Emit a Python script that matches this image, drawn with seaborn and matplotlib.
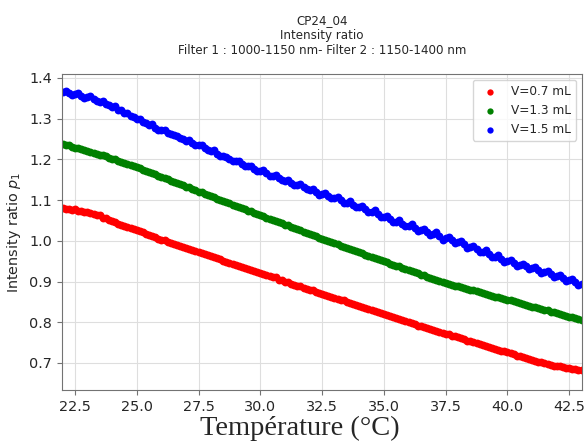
import matplotlib
matplotlib.use('Agg')
import matplotlib.pyplot as plt
import pandas as pd
import seaborn as sns

# Temperature (°C) of each sample, one row per degree
temps = [22.000, 22.125, 22.250, 22.375, 22.500, 22.625, 22.750, 22.875,
         23.000, 23.125, 23.250, 23.375, 23.500, 23.625, 23.750, 23.875,
         24.000, 24.125, 24.250, 24.375, 24.500, 24.625, 24.750, 24.875,
         25.000, 25.125, 25.250, 25.375, 25.500, 25.625, 25.750, 25.875,
         26.000, 26.125, 26.250, 26.375, 26.500, 26.625, 26.750, 26.875,
         27.000, 27.125, 27.250, 27.375, 27.500, 27.625, 27.750, 27.875,
         28.000, 28.125, 28.250, 28.375, 28.500, 28.625, 28.750, 28.875,
         29.000, 29.125, 29.250, 29.375, 29.500, 29.625, 29.750, 29.875,
         30.000, 30.125, 30.250, 30.375, 30.500, 30.625, 30.750, 30.875,
         31.000, 31.125, 31.250, 31.375, 31.500, 31.625, 31.750, 31.875,
         32.000, 32.125, 32.250, 32.375, 32.500, 32.625, 32.750, 32.875,
         33.000, 33.125, 33.250, 33.375, 33.500, 33.625, 33.750, 33.875,
         34.000, 34.125, 34.250, 34.375, 34.500, 34.625, 34.750, 34.875,
         35.000, 35.125, 35.250, 35.375, 35.500, 35.625, 35.750, 35.875,
         36.000, 36.125, 36.250, 36.375, 36.500, 36.625, 36.750, 36.875,
         37.000, 37.125, 37.250, 37.375, 37.500, 37.625, 37.750, 37.875,
         38.000, 38.125, 38.250, 38.375, 38.500, 38.625, 38.750, 38.875,
         39.000, 39.125, 39.250, 39.375, 39.500, 39.625, 39.750, 39.875,
         40.000, 40.125, 40.250, 40.375, 40.500, 40.625, 40.750, 40.875,
         41.000, 41.125, 41.250, 41.375, 41.500, 41.625, 41.750, 41.875,
         42.000, 42.125, 42.250, 42.375, 42.500, 42.625, 42.750, 42.875,
         43.000]

# Intensity ratio p1 for V=0.7 mL
ratio_07 = [1.080, 1.078, 1.078, 1.076, 1.077, 1.074, 1.074, 1.071,
            1.071, 1.068, 1.067, 1.063, 1.064, 1.057, 1.055, 1.051,
            1.049, 1.045, 1.042, 1.040, 1.036, 1.033, 1.031, 1.028,
            1.026, 1.024, 1.021, 1.017, 1.015, 1.013, 1.009, 1.005,
            1.003, 1.001, 0.998, 0.995, 0.993, 0.990, 0.988, 0.985,
            0.983, 0.981, 0.978, 0.975, 0.973, 0.971, 0.968, 0.964,
            0.962, 0.960, 0.957, 0.955, 0.951, 0.949, 0.946, 0.943,
            0.941, 0.939, 0.936, 0.933, 0.931, 0.929, 0.926, 0.923,
            0.921, 0.919, 0.916, 0.913, 0.911, 0.910, 0.905, 0.903,
            0.900, 0.898, 0.895, 0.892, 0.890, 0.888, 0.885, 0.882,
            0.880, 0.878, 0.875, 0.872, 0.870, 0.868, 0.865, 0.862,
            0.860, 0.858, 0.855, 0.854, 0.850, 0.848, 0.845, 0.842,
            0.840, 0.838, 0.835, 0.832, 0.830, 0.828, 0.825, 0.822,
            0.820, 0.818, 0.815, 0.812, 0.810, 0.808, 0.805, 0.804,
            0.800, 0.798, 0.795, 0.792, 0.790, 0.788, 0.786, 0.783,
            0.781, 0.779, 0.776, 0.773, 0.772, 0.770, 0.767, 0.766,
            0.763, 0.761, 0.758, 0.755, 0.753, 0.751, 0.749, 0.746,
            0.744, 0.742, 0.740, 0.737, 0.735, 0.733, 0.730, 0.729,
            0.726, 0.724, 0.721, 0.718, 0.717, 0.715, 0.712, 0.709,
            0.708, 0.706, 0.703, 0.702, 0.699, 0.698, 0.696, 0.693,
            0.693, 0.692, 0.690, 0.687, 0.687, 0.686, 0.685, 0.683,
            0.683]

# Intensity ratio p1 for V=1.3 mL
ratio_13 = [1.238, 1.236, 1.235, 1.231, 1.229, 1.228, 1.225, 1.222,
            1.220, 1.219, 1.216, 1.213, 1.211, 1.210, 1.207, 1.204,
            1.202, 1.201, 1.197, 1.194, 1.191, 1.189, 1.186, 1.183,
            1.180, 1.178, 1.174, 1.171, 1.168, 1.167, 1.163, 1.160,
            1.157, 1.155, 1.151, 1.148, 1.145, 1.143, 1.139, 1.136,
            1.133, 1.131, 1.127, 1.124, 1.121, 1.119, 1.115, 1.112,
            1.109, 1.107, 1.103, 1.100, 1.098, 1.096, 1.092, 1.089,
            1.086, 1.084, 1.080, 1.077, 1.074, 1.072, 1.069, 1.066,
            1.063, 1.061, 1.057, 1.054, 1.051, 1.049, 1.045, 1.043,
            1.040, 1.038, 1.034, 1.031, 1.028, 1.026, 1.022, 1.020,
            1.017, 1.015, 1.011, 1.008, 1.005, 1.003, 0.999, 0.996,
            0.994, 0.992, 0.988, 0.985, 0.983, 0.981, 0.977, 0.974,
            0.972, 0.970, 0.966, 0.963, 0.961, 0.959, 0.955, 0.952,
            0.950, 0.948, 0.944, 0.941, 0.939, 0.937, 0.934, 0.931,
            0.928, 0.926, 0.923, 0.920, 0.917, 0.915, 0.912, 0.909,
            0.906, 0.904, 0.901, 0.898, 0.896, 0.895, 0.892, 0.890,
            0.888, 0.887, 0.884, 0.882, 0.880, 0.879, 0.876, 0.874,
            0.872, 0.870, 0.867, 0.865, 0.863, 0.862, 0.859, 0.857,
            0.855, 0.854, 0.851, 0.849, 0.847, 0.845, 0.842, 0.840,
            0.838, 0.837, 0.834, 0.832, 0.830, 0.829, 0.826, 0.824,
            0.822, 0.821, 0.818, 0.816, 0.814, 0.813, 0.810, 0.808,
            0.806]

# Intensity ratio p1 for V=1.5 mL
ratio_15 = [1.366, 1.368, 1.363, 1.358, 1.360, 1.362, 1.356, 1.351,
            1.352, 1.355, 1.347, 1.343, 1.341, 1.344, 1.335, 1.334,
            1.328, 1.330, 1.321, 1.320, 1.313, 1.315, 1.306, 1.305,
            1.299, 1.300, 1.292, 1.290, 1.285, 1.286, 1.278, 1.272,
            1.271, 1.273, 1.265, 1.262, 1.259, 1.258, 1.252, 1.250,
            1.246, 1.247, 1.240, 1.236, 1.234, 1.235, 1.227, 1.222,
            1.221, 1.222, 1.214, 1.208, 1.207, 1.206, 1.200, 1.196,
            1.195, 1.196, 1.189, 1.184, 1.183, 1.184, 1.177, 1.172,
            1.172, 1.173, 1.166, 1.160, 1.160, 1.162, 1.154, 1.149,
            1.148, 1.150, 1.142, 1.137, 1.136, 1.139, 1.131, 1.126,
            1.125, 1.128, 1.120, 1.112, 1.115, 1.118, 1.110, 1.104,
            1.105, 1.108, 1.099, 1.094, 1.094, 1.097, 1.088, 1.082,
            1.082, 1.086, 1.077, 1.070, 1.071, 1.075, 1.065, 1.058,
            1.059, 1.062, 1.053, 1.046, 1.047, 1.051, 1.042, 1.036,
            1.037, 1.041, 1.032, 1.024, 1.027, 1.030, 1.022, 1.015,
            1.017, 1.021, 1.012, 1.003, 1.007, 1.010, 1.002, 0.995,
            0.997, 1.000, 0.991, 0.983, 0.985, 0.988, 0.979, 0.972,
            0.973, 0.977, 0.967, 0.960, 0.961, 0.965, 0.955, 0.949,
            0.950, 0.954, 0.945, 0.939, 0.941, 0.944, 0.937, 0.930,
            0.933, 0.936, 0.928, 0.921, 0.923, 0.926, 0.918, 0.911,
            0.913, 0.916, 0.908, 0.901, 0.903, 0.907, 0.899, 0.892,
            0.895]

labels = ['V=0.7 mL', 'V=1.3 mL', 'V=1.5 mL']
colors = ['red', 'green', 'blue']

df = pd.DataFrame({'temp': temps, labels[0]: ratio_07, labels[1]: ratio_13, labels[2]: ratio_15})

sns.set_style('whitegrid', {'axes.edgecolor': '0.45', 'grid.color': '0.87',
                            'xtick.bottom': True, 'ytick.left': True})
plt.rcParams['font.family'] = ['DejaVu Sans']

fig = plt.figure(figsize=(5.87, 4.42), dpi=100)
ax = fig.add_axes([0.105, 0.117, 0.887, 0.716])

for lab, col in zip(labels, colors):
    sns.scatterplot(data=df, x='temp', y=lab, color=col, s=32, linewidth=0, label=lab, ax=ax)

ax.set_xlim(21.96, 43.03)
ax.set_ylim(0.633, 1.41)
ax.tick_params(labelsize=10.4, length=3.5, color='0.45')

ax.set_title('CP24_04\nIntensity ratio\nFilter 1 : 1000-1150 nm- Filter 2 : 1150-1400 nm',
             fontsize=8.6, pad=14)
ax.set_xlabel('Température (°C)', fontsize=20.5, family='Liberation Serif', labelpad=1)
ax.xaxis.label.set_x(0.458)
ax.set_ylabel('Intensity ratio $p_1$', fontsize=10.4)

ax.legend(loc='upper right', fontsize=8.7, markerscale=0.8)

fig.savefig('out.png', dpi=100)
